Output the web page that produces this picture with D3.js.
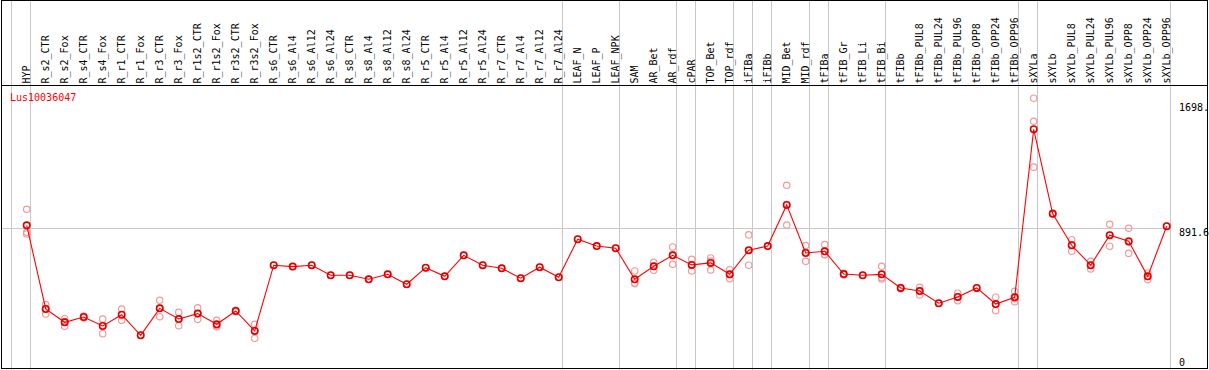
<!DOCTYPE html>
<html lang="en">
<head>
<meta charset="utf-8">
<title>Lus10036047</title>
<script type="text/javascript" src="https://cdn.jsdelivr.net/npm/d3@7"></script>
<style>
	body { margin: 0; background: #fff; }
	text { font-family: "DejaVu Sans Mono", "Liberation Mono", monospace; font-size: 10px; }
</style>
</head>
<body>
<script type="text/javascript">

// tissue / condition names, left to right
let samples = ["HYP",
	"R_s2_CTR", "R_s2_Fox", "R_s4_CTR", "R_s4_Fox", "R_r1_CTR", "R_r1_Fox", "R_r3_CTR", "R_r3_Fox",
	"R_r1s2_CTR", "R_r1s2_Fox", "R_r3s2_CTR", "R_r3s2_Fox",
	"R_s6_CTR", "R_s6_Al4", "R_s6_Al12", "R_s6_Al24", "R_s8_CTR", "R_s8_Al4", "R_s8_Al12", "R_s8_Al24",
	"R_r5_CTR", "R_r5_Al4", "R_r5_Al12", "R_r5_Al24", "R_r7_CTR", "R_r7_Al4", "R_r7_Al12", "R_r7_Al24",
	"LEAF_N", "LEAF_P", "LEAF_NPK", "SAM", "AR_Bet", "AR_rdf", "cPAR", "TOP_Bet", "TOP_rdf",
	"iFIBa", "iFIBb", "MID_Bet", "MID_rdf", "tFIBa", "tFIB_Gr", "tFIB_Li", "tFIB_Bi", "tFIBb",
	"tFIBb_PUL8", "tFIBb_PUL24", "tFIBb_PUL96", "tFIBb_OPP8", "tFIBb_OPP24", "tFIBb_OPP96",
	"sXYLa", "sXYLb", "sXYLb_PUL8", "sXYLb_PUL24", "sXYLb_PUL96", "sXYLb_OPP8", "sXYLb_OPP24", "sXYLb_OPP96"];

// mean expression per sample
let means = [911,
	370, 284, 318, 260, 333, 200, 374, 305,
	340, 271, 357, 228,
	653, 644, 653, 588, 588, 562, 594, 530,
	637, 581, 717, 653, 633, 569, 640, 575,
	821, 777, 763, 562, 646, 717, 655, 668, 594,
	750, 777, 1043, 732, 743, 596, 588, 594, 506,
	486, 407, 448, 506, 402, 446,
	1532, 985, 782, 653, 847, 808, 581, 905];

// individual replicates per sample
let replicates = [[1015, 866, 855],
	[398, 338, 372], [307, 258, 288], [325, 312], [305, 210, 262], [370, 297], [200], [426, 320, 376], [349, 262, 304],
	[378, 303, 340], [297, 255, 262], [362, 352], [271, 180, 232],
	[653], [644], [653], [588], [588], [562], [594], [530],
	[637], [581], [717], [653], [633], [569], [640], [575],
	[821], [777], [763], [616, 534, 538], [672, 620, 646], [771, 659, 720], [691, 616, 658], [700, 622, 680], [624, 566, 592],
	[849, 653, 748], [777], [1170, 913, 1046], [780, 678, 738], [786, 721, 722], [590, 600], [588], [646, 564, 572], [510, 500],
	[510, 460, 488], [407], [472, 424, 448], [506], [446, 359, 400], [484, 417, 437],
	[1733, 1584, 1287], [985, 990], [818, 743, 785], [678, 629, 652], [918, 776, 847], [892, 730, 802], [603, 560, 580], [905]];

// a divider line is drawn after each of these samples
let dividers = ["HYP", "R_r7_Al24", "LEAF_NPK", "AR_rdf", "cPAR", "TOP_rdf", "iFIBa", "iFIBb",
	"MID_rdf", "tFIBa", "tFIB_Bi", "tFIBb_OPP96", "sXYLa", "sXYLb_OPP96"];

let tickValues = [0, 891.6, 1698];
let tickLabels = ["0", "891.6", "1698."];
let gene = "Lus10036047";

let w = 1209;
let h = 370;
let headerBottom = 85.5;

let xScale = d3.scaleBand()
	.domain(samples)
	.range([17.2, 17.2 + 19 * samples.length]);

let cx = (name) => xScale(name) + xScale.bandwidth() / 2;

let yScale = d3.scaleLinear()
	.domain([0, 1698])
	.range([366.2, 103.6]);

let svg = d3.select("body")
	.append("svg")
	.attr("width", w)
	.attr("height", h);

let gridX = [cx(samples[0]) - 19 + 3.7].concat(dividers.map((d) => cx(d) + 3.7));
let rightEdge = cx(samples[samples.length - 1]) + 3.7;

svg.selectAll("line.vgrid")
	.data(gridX)
	.enter()
	.append("line")
	.attr("class", "vgrid")
	.attr("x1", (d) => Math.round(d) + 0.5)
	.attr("x2", (d) => Math.round(d) + 0.5)
	.attr("y1", 0)
	.attr("y2", h)
	.attr("stroke", "#c8c8c8");

svg.append("line")
	.attr("x1", 1)
	.attr("x2", Math.round(rightEdge))
	.attr("y1", Math.round(yScale(891.6)) + 0.5)
	.attr("y2", Math.round(yScale(891.6)) + 0.5)
	.attr("stroke", "#c8c8c8");

// frame
svg.append("rect")
	.attr("x", 1.5)
	.attr("y", 0.5)
	.attr("width", 1206)
	.attr("height", 368)
	.attr("fill", "none")
	.attr("stroke", "#000");

svg.append("line")
	.attr("x1", 1)
	.attr("x2", 1208)
	.attr("y1", headerBottom)
	.attr("y2", headerBottom)
	.attr("stroke", "#000");

// rotated sample names
svg.selectAll("text.sample")
	.data(samples)
	.enter()
	.append("text")
	.attr("class", "sample")
	.attr("transform", (d) => "translate(" + (cx(d) + 3.3) + "," + 83.5 + ") rotate(-90)")
	.attr("fill", "#000")
	.text((d) => d);

svg.append("text")
	.attr("x", 10)
	.attr("y", 101)
	.attr("fill", "#ff0000")
	.text(gene);

svg.selectAll("text.tick")
	.data(tickValues)
	.enter()
	.append("text")
	.attr("class", "tick")
	.attr("x", 1179)
	.attr("y", (d) => Math.min(yScale(d) + 7.5, yScale(0) - 0.5))
	.attr("fill", "#000")
	.text((d, i) => tickLabels[i]);

// replicates
let reps = [];
samples.forEach((s, i) => replicates[i].forEach((v) => reps.push({ s: s, v: v })));

svg.selectAll("circle.rep")
	.data(reps)
	.enter()
	.append("circle")
	.attr("class", "rep")
	.attr("cx", (d) => cx(d.s))
	.attr("cy", (d) => yScale(d.v))
	.attr("r", 3.2)
	.attr("fill", "none")
	.attr("stroke", "#f09a9a")
	.attr("stroke-width", 1.2);

let line = d3.line()
	.x((d, i) => cx(samples[i]))
	.y((d) => yScale(d));

svg.append("path")
	.datum(means)
	.attr("d", line)
	.attr("fill", "none")
	.attr("stroke", "#ff0000")
	.attr("stroke-width", 1.1);

svg.selectAll("circle.mean")
	.data(means)
	.enter()
	.append("circle")
	.attr("class", "mean")
	.attr("cx", (d, i) => cx(samples[i]))
	.attr("cy", (d) => yScale(d))
	.attr("r", 3.2)
	.attr("fill", "none")
	.attr("stroke", "#e00000")
	.attr("stroke-width", 1.6);

</script>
</body>
</html>
